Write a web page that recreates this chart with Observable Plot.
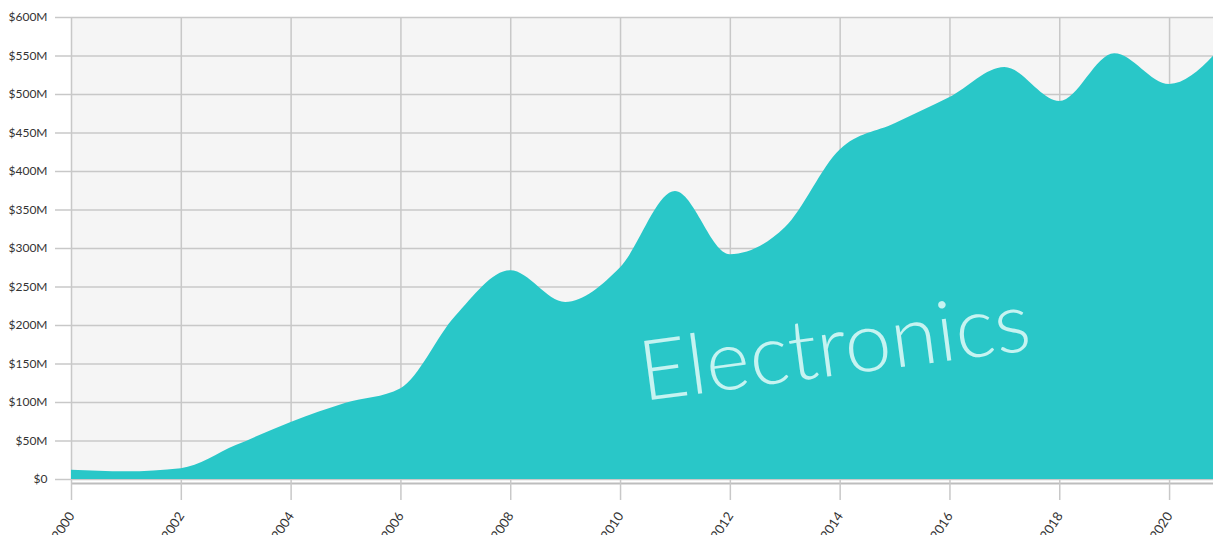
<!DOCTYPE html>
<html><head><meta charset="utf-8">
<script src="https://cdn.jsdelivr.net/npm/d3@7"></script>
<script src="https://cdn.jsdelivr.net/npm/@observablehq/plot@0.6"></script>
<style>html,body{margin:0;padding:0;background:#fff;} svg{display:block}</style>
</head><body><div id="chart"></div>
<script>
const years = [2000,2001,2002,2003,2004,2005,2006,2007,2008,2009,2010,2011,2012,2013,2014,2015,2016,2017,2018,2019,2020,2021];
const sales = [12,10,14,44,74,99,118,212,271,230,275,374,292,327,428,462,496,535,491,553,513,565]; // $M
const yTicks = [0,50,100,150,200,250,300,350,400,450,500,550,600];
const xTicks = [2000,2002,2004,2006,2008,2010,2012,2014,2016,2018,2020];
const seriesLabel = "Electronics";
const labelPos = {year: 2013.9, value: 170};

const data = years.map((y, i) => ({year: y, value: sales[i]}));

const chart = Plot.plot({
  width: 1213,
  height: 535,
  marginLeft: 71,
  marginRight: 0,
  marginTop: 17,
  marginBottom: 56,
  style: {fontFamily: "Lato, sans-serif", fontSize: "12px", color: "#333", background: "#fff", overflow: "visible"},
  x: {domain: [2000, 2020.8]},
  y: {domain: [0, 600]},
  marks: [
    Plot.frame({fill: "#f5f5f5", stroke: null}),
    Plot.gridY(yTicks, {stroke: "#c8c8c8", strokeOpacity: 1, strokeWidth: 1.5}),
    Plot.gridX(xTicks, {stroke: "#c8c8c8", strokeOpacity: 1, strokeWidth: 1.5}),
    Plot.areaY(data, {x: "year", y: "value", curve: "monotone-x", fill: "#29c7c8", clip: true}),
    Plot.ruleY([0], {dy: 4, stroke: "#bdbdbd", strokeWidth: 2}),
    Plot.axisY(yTicks, {tickSize: 16, tickPadding: 8, stroke: "#c8c8c8", strokeWidth: 1.5, fontSize: 12, tickFormat: d => d === 0 ? "$0" : `$${d}M`, label: null}),
    Plot.axisX(xTicks, {tickSize: 21, tickPadding: 13, tickRotate: -57, stroke: "#c8c8c8", strokeWidth: 1.5, fontSize: 13, tickFormat: d => String(d), label: null}),
    Plot.text([labelPos], {x: "year", y: "value", text: () => seriesLabel, rotate: -7.5, fontSize: 84, fontWeight: 300, fontFamily: "Lato, sans-serif", fill: "#c6f3f1", textAnchor: "middle"})
  ]
});
document.getElementById("chart").appendChild(chart);
</script>
</body></html>
